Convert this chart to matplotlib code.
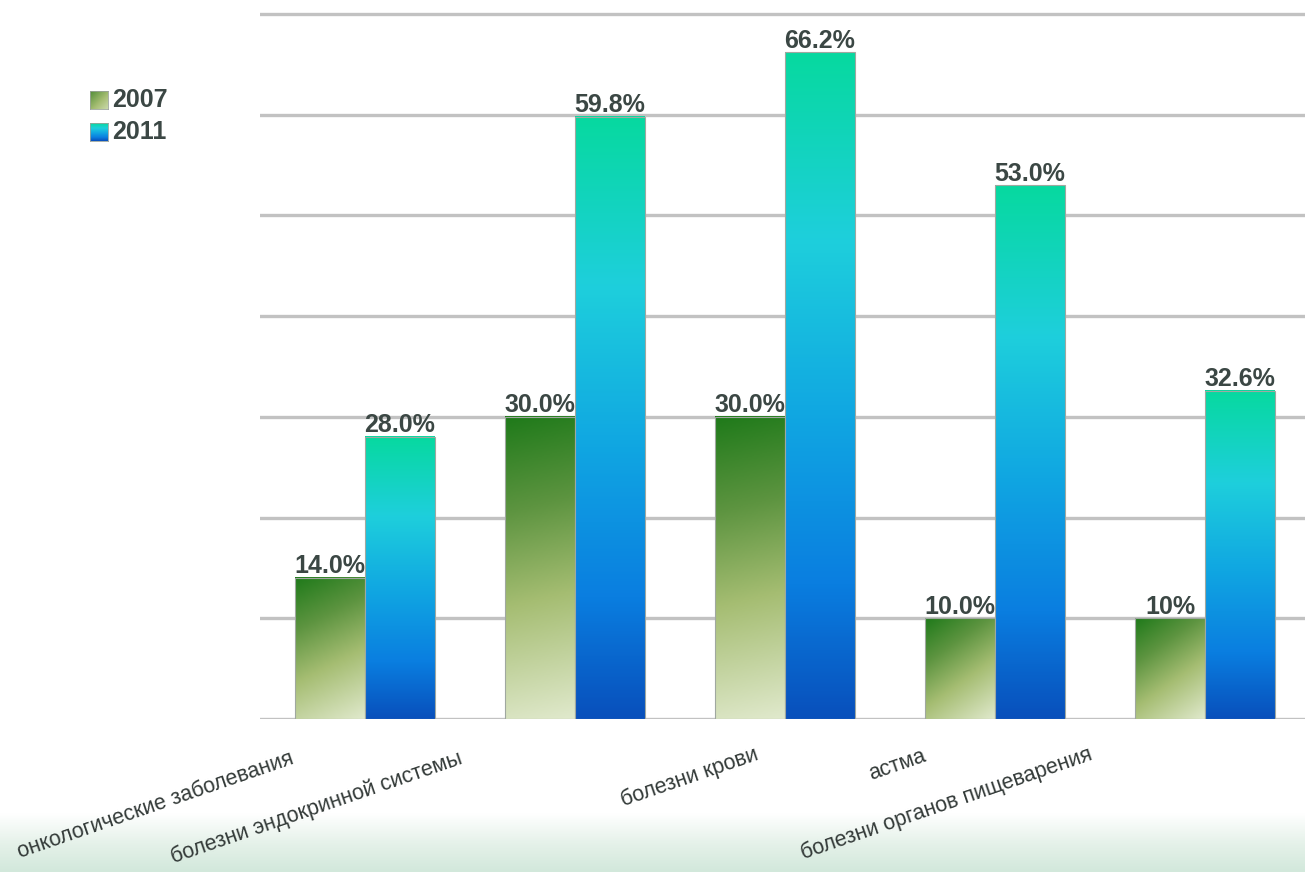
import numpy as np
import matplotlib
matplotlib.use('Agg')
import matplotlib.pyplot as plt
from matplotlib.colors import LinearSegmentedColormap
from matplotlib.patches import Rectangle

# ---------------- data ----------------
categories = ['онкологические заболевания', 'болезни эндокринной системы',
              'болезни крови', 'астма', 'болезни органов пищеварения']
values_2007 = [14.0, 30.0, 30.0, 10.0, 10.0]
values_2011 = [28.0, 59.8, 66.2, 53.0, 32.6]
labels_2007 = ['14.0%', '30.0%', '30.0%', '10.0%', '10%']
labels_2011 = ['28.0%', '59.8%', '66.2%', '53.0%', '32.6%']
series_names = ['2007', '2011']
yticks = [0, 10, 20, 30, 40, 50, 60, 70]

# ---------------- style ----------------
plt.rcParams['font.family'] = ['Liberation Sans', 'DejaVu Sans']
TEXT = '#3b4744'
cmap_2007 = LinearSegmentedColormap.from_list('g07', [
    (0.0, '#1f7a1a'), (0.3, '#5d9440'), (0.6, '#a5bd72'), (1.0, '#e0e9cc')])
cmap_2011 = LinearSegmentedColormap.from_list('b11', [
    (0.0, '#07d9a0'), (0.28, '#1ecfdc'), (0.55, '#10a6e2'), (0.8, '#0a7ee0'), (1.0, '#0850bc')])

W, H = 1305, 872
fig = plt.figure(figsize=(W / 100, H / 100), dpi=100)

# bottom light-green band
bg = fig.add_axes([0, 0, 1, 1], zorder=-10)
bg.set_xlim(0, 1); bg.set_ylim(0, 1); bg.axis('off')
band = np.linspace(0, 1, 64).reshape(-1, 1)
band_cmap = LinearSegmentedColormap.from_list('band', ['#ffffff', '#e6f2ea', '#d2e8db'])
bg.imshow(band, extent=(0, 1, 0, 58 / H), cmap=band_cmap, aspect='auto', origin='upper')

# main axes
ymax = 71
ax = fig.add_axes([260 / W, (H - 719) / H, 1045 / W, (705 / 70 * ymax) / H])
xlim = (-0.5, (1305 - 365) / 210)
bw = 1 / 3

ax.set_yticks(yticks)
ax.yaxis.grid(True, color='#c2c2c2', linewidth=2.4)
ax.set_axisbelow(True)
for s in ax.spines.values():
    s.set_visible(False)
ax.tick_params(left=False, bottom=False, labelleft=False, labelbottom=False)

px_x = 1045 / (xlim[1] - xlim[0])
px_y = (705 / 70 * ymax) / ymax


def draw_bar(x0, h, cmap, diagonal, z):
    n, m = 200, 60
    yy = np.linspace(0, 1, n).reshape(-1, 1) * np.ones((1, m))
    xx = np.ones((n, 1)) * np.linspace(0, 1, m).reshape(1, -1)
    if diagonal:
        wp, hp = bw * px_x, h * px_y
        t = (xx * wp ** 2 + yy * hp ** 2) / (wp ** 2 + hp ** 2)
    else:
        t = yy
    ax.imshow(t, extent=(x0, x0 + bw, 0, h), cmap=cmap, vmin=0, vmax=1,
              aspect='auto', origin='upper', interpolation='bilinear', zorder=z)
    ax.add_patch(Rectangle((x0, 0), bw, h, fill=False, edgecolor='#a0a8a0',
                           linewidth=0.8, zorder=z + 0.1))


for i in range(len(categories)):
    x07 = i - bw
    x11 = i
    draw_bar(x07, values_2007[i], cmap_2007, True, 2)
    ax.text(x07 + bw / 2, values_2007[i] + 0.45, labels_2007[i], ha='center', va='baseline',
            fontsize=18, fontweight='bold', color=TEXT, zorder=3)
    draw_bar(x11, values_2011[i], cmap_2011, False, 4)
    ax.text(x11 + bw / 2, values_2011[i] + 0.45, labels_2011[i], ha='center', va='baseline',
            fontsize=18, fontweight='bold', color=TEXT, zorder=5)

ax.set_xlim(*xlim)
ax.set_ylim(0, ymax)

# category labels (rotated, staggered)
label_dx = [-0.333, -0.533, -0.12, -0.324, -0.533]
label_y = [-0.062, -0.062, -0.056, -0.058, -0.056]
for i, cat in enumerate(categories):
    ax.text(i + label_dx[i], label_y[i], cat, transform=ax.get_xaxis_transform(),
            ha='right', va='baseline', rotation=19, rotation_mode='anchor',
            fontsize=15.5, color='#333a38', clip_on=False)

# legend (manual, gradient swatches)
leg_rows = [(100, cmap_2007, True), (132, cmap_2011, False)]
for name, (yc, cm, diag) in zip(series_names, leg_rows):
    lax = fig.add_axes([90 / W, (H - yc - 9) / H, 18 / W, 18 / H])
    g = np.linspace(0, 1, 40).reshape(-1, 1) * np.ones((1, 40))
    if diag:
        g = 0.5 * g + 0.5 * (np.ones((40, 1)) * np.linspace(0, 1, 40).reshape(1, -1))
        g = 0.25 + 0.6 * g
    lax.imshow(g, cmap=cm, vmin=0, vmax=1, aspect='auto', interpolation='bilinear')
    lax.set_xticks([]); lax.set_yticks([])
    for s in lax.spines.values():
        s.set_color('#9aa39a'); s.set_linewidth(0.6)
    fig.text(112 / W, (H - yc) / H, name, ha='left', va='center', fontsize=18,
             fontweight='bold', color=TEXT)

fig.savefig('out.png', dpi=100)
